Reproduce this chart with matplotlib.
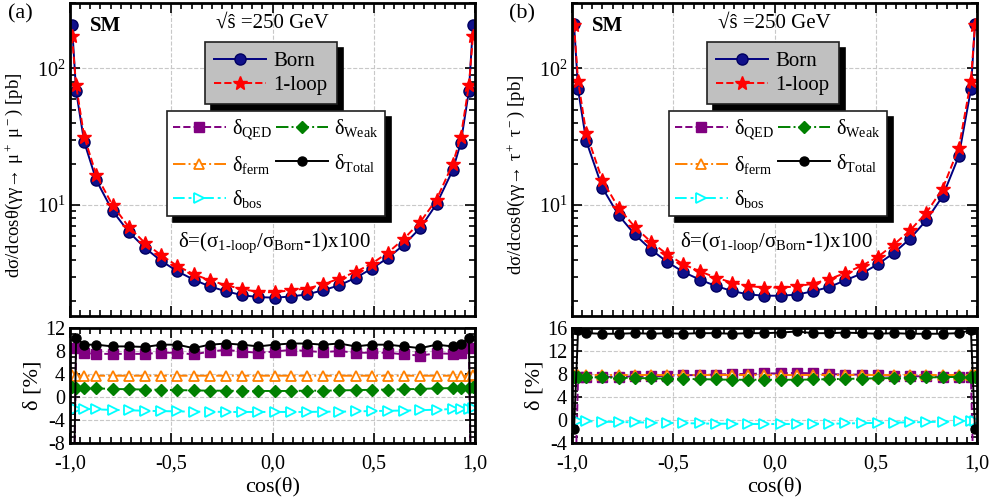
import numpy as np
import matplotlib.pyplot as plt
from matplotlib.ticker import MultipleLocator, LogLocator, NullFormatter

plt.rcParams['font.family'] = ['Liberation Serif', 'DejaVu Serif']
plt.rcParams['mathtext.fontset'] = 'custom'
plt.rcParams['mathtext.rm'] = 'Liberation Serif'
plt.rcParams['mathtext.it'] = 'Liberation Serif:italic'
plt.rcParams['axes.unicode_minus'] = False

# ---- panel (a): gamma gamma -> mu+ mu-
cos_a = [-0.99, -0.97, -0.93, -0.87, -0.79, -0.71, -0.63, -0.55, -0.47, -0.39,
         -0.31, -0.23, -0.15, -0.07, 0.01, 0.09, 0.17, 0.25, 0.33, 0.41,
         0.49, 0.57, 0.65, 0.73, 0.81, 0.89, 0.93, 0.97, 0.99]
born_a = [207, 68.5, 29, 15.2, 9.08, 6.38, 4.88, 3.92, 3.29, 2.86, 2.55, 2.35,
          2.20, 2.13, 2.11, 2.15, 2.23, 2.39, 2.60, 2.94, 3.44, 4.12, 5.16,
          6.82, 10.2, 18.0, 28.6, 68.5, 207]
loop_a = [172, 75.6, 31.7, 16.6, 10.0, 6.94, 5.30, 4.31, 3.60, 3.13, 2.83, 2.60,
          2.44, 2.32, 2.31, 2.39, 2.46, 2.64, 2.91, 3.25, 3.74, 4.50, 5.70,
          7.55, 11.0, 20.0, 31.7, 75.6, 172]
qed_a = [-40, 8.5, 7.65, 7.5, 7.5, 7.5, 7.5, 7.7, 7.7, 7.4, 7.9, 8.2, 7.9, 7.7,
         7.9, 8.2, 8.0, 7.8, 8.0, 7.7, 7.7, 7.7, 7.4, 7.2, 7.6, 7.5, 7.6, 8.5, -40]
weak_a = [1.7, 1.6, 1.6, 1.5, 1.4, 1.35, 1.3, 1.25, 1.2, 1.15, 1.1, 1.1, 1.05,
          1.05, 1.05, 1.05, 1.1, 1.1, 1.15, 1.2, 1.25, 1.3, 1.35, 1.4, 1.5,
          1.55, 1.6, 1.6, 1.7]
ferm_a = [3.8, 3.7, 3.7, 3.7, 3.7, 3.7, 3.7, 3.7, 3.7, 3.7, 3.7, 3.7, 3.7, 3.7,
          3.7, 3.7, 3.7, 3.7, 3.7, 3.7, 3.7, 3.7, 3.7, 3.7, 3.7, 3.7, 3.7, 3.7, 3.8]
bos_a = [-1.9, -2.0, -2.05, -2.15, -2.25, -2.3, -2.4, -2.45, -2.5, -2.55, -2.55,
         -2.6, -2.6, -2.6, -2.6, -2.6, -2.6, -2.55, -2.55, -2.5, -2.45, -2.4,
         -2.35, -2.3, -2.2, -2.1, -2.05, -2.0, -1.9]
total_a = [-40, 10.3, 9.1, 9.1, 8.8, 8.8, 8.7, 9.1, 9.1, 8.5, 9.1, 9.3, 9.1, 8.8,
           9.1, 9.3, 9.3, 9.1, 9.3, 8.8, 9.1, 9.1, 8.8, 8.5, 9.1, 8.8, 9.2, 10.3, -40]

# ---- panel (b): gamma gamma -> tau+ tau-
cos_b = [-0.99, -0.97, -0.93, -0.85, -0.77, -0.69, -0.61, -0.53, -0.45, -0.37,
         -0.29, -0.21, -0.13, -0.05, 0.03, 0.11, 0.19, 0.27, 0.35, 0.43, 0.51,
         0.59, 0.67, 0.75, 0.83, 0.91, 0.97, 0.99]
born_b = [211, 70.2, 29.5, 13.4, 8.45, 6.11, 4.74, 3.85, 3.25, 2.86, 2.57, 2.36,
          2.23, 2.18, 2.18, 2.22, 2.35, 2.52, 2.83, 3.16, 3.70, 4.48, 5.70,
          7.77, 11.6, 22.8, 70.2, 211]
loop_b = [207, 81, 33.8, 15.2, 9.55, 6.94, 5.39, 4.38, 3.70, 3.29, 2.96, 2.72,
          2.57, 2.50, 2.50, 2.55, 2.67, 2.88, 3.20, 3.60, 4.19, 5.16, 6.56,
          8.80, 13.2, 26.2, 81, 207]
qed_b = [-20, 7.5, 7.4, 7.5, 7.5, 7.6, 7.6, 7.7, 7.8, 7.8, 7.9, 8.0, 8.0, 8.1,
         8.1, 8.2, 8.1, 8.0, 7.9, 7.9, 7.8, 7.7, 7.6, 7.6, 7.5, 7.5, 7.5, -20]
weak_b = [7.5, 7.5, 7.45, 7.4, 7.35, 7.3, 7.25, 7.2, 7.15, 7.1, 7.05, 7.0, 7.0,
          7.0, 7.0, 7.0, 7.05, 7.1, 7.15, 7.2, 7.25, 7.3, 7.35, 7.4, 7.45,
          7.5, 7.5, 7.5]
ferm_b = [7.9] * 28
bos_b = [-0.1, -0.15, -0.2, -0.3, -0.35, -0.4, -0.45, -0.5, -0.55, -0.6, -0.65,
         -0.65, -0.7, -0.7, -0.7, -0.7, -0.65, -0.65, -0.6, -0.55, -0.5, -0.45,
         -0.4, -0.35, -0.3, -0.2, -0.15, -0.1]
total_b = [-1.6, 15.6, 15.1, 15.0, 15.0, 15.1, 15.0, 15.1, 15.0, 15.1, 15.1, 15.0,
           15.1, 15.1, 15.2, 15.4, 15.1, 15.1, 15.2, 15.1, 15.0, 15.1, 15.0,
           15.0, 15.0, 15.1, 15.6, -1.6]

xtick_pos = [-1.0, -0.5, 0.0, 0.5, 1.0]
xtick_lab = ['-1,0', '-0,5', '0,0', '0,5', '1,0']

W, H = 992, 503
fig = plt.figure(figsize=(W / 100, H / 100), dpi=100)

SHADOW = {'ox': 4.5, 'oy': -4.5, 'facecolor': 'black', 'edgecolor': 'black',
          'alpha': 1}


def box(x0, y0, x1, y1):
    return [x0 / W, 1 - y1 / H, (x1 - x0) / W, (y1 - y0) / H]


def style(ax):
    for s in ax.spines.values():
        s.set_linewidth(2)
    ax.tick_params(which='both', direction='in', top=True, right=True,
                   labelsize=14.5, width=1.2)
    ax.tick_params(which='major', length=7)
    ax.tick_params(which='minor', length=4)
    ax.grid(True, which='major', ls='--', color='#c8c8c8', lw=0.8)
    ax.set_axisbelow(True)


def panel(x0, tag, cos, born, loop, deltas, ylim_d, yticks_d, ylab_top):
    ax = fig.add_axes(box(x0, 3, x0 + 405, 316))
    axd = fig.add_axes(box(x0, 328, x0 + 405, 443))
    style(ax)
    style(axd)

    l_born, = ax.plot(cos, born, '-', color='#000080', lw=1.4, marker='o',
                      ms=8, mfc='#10108a', mec='#000060', label='Born')
    l_loop, = ax.plot(cos, loop, '--', color='red', lw=1.4, marker='*',
                      ms=10, mfc='red', mec='red', label='1-loop')
    ax.set_yscale('log')
    ax.set_ylim(1.55, 300)
    ax.set_xlim(-1, 1)
    ax.yaxis.set_minor_locator(LogLocator(subs=np.arange(2, 10)))
    ax.yaxis.set_minor_formatter(NullFormatter())
    ax.set_xticks(xtick_pos)
    ax.xaxis.set_minor_locator(MultipleLocator(0.05))
    ax.tick_params(labelbottom=False)
    ax.set_ylabel(ylab_top, fontsize=13.5)
    ax.yaxis.set_label_coords(-0.112, 0.45)

    qed, weak, ferm, bos, total = deltas
    h_qed, = axd.plot(cos, qed, '--', color='#800080', lw=1.4, marker='s',
                      ms=6.5, label='δ$_{\\mathrm{QED}}$')
    h_ferm, = axd.plot(cos, ferm, '-.', color='#ff8000', lw=1.4, marker='^',
                       ms=7, mfc='white', mec='#ff8000', mew=1.3,
                       label='δ$_{\\mathrm{ferm}}$')
    h_bos, = axd.plot(cos, bos, ls=(0, (6, 2, 1.5, 2, 1.5, 2)), color='cyan',
                      lw=1.4, marker='>', ms=7, mfc='white', mec='cyan',
                      mew=1.3, label='δ$_{\\mathrm{bos}}$')
    h_weak, = axd.plot(cos, weak, '-.', color='#008000', lw=1.4, marker='D',
                       ms=6, label='δ$_{\\mathrm{Weak}}$')
    h_tot, = axd.plot(cos, total, '-', color='black', lw=1.4, marker='o',
                      ms=6.5, label='δ$_{\\mathrm{Total}}$')
    axd.set_xlim(-1, 1)
    axd.set_ylim(*ylim_d)
    axd.set_yticks(yticks_d)
    axd.yaxis.set_minor_locator(MultipleLocator(1))
    axd.set_xticks(xtick_pos, xtick_lab)
    axd.xaxis.set_minor_locator(MultipleLocator(0.05))
    axd.tick_params(axis='x', which='major', pad=8)
    axd.set_xlabel('cos(θ)', fontsize=16, labelpad=3)
    axd.set_ylabel('δ [%]', fontsize=16, labelpad=2)

    leg1 = ax.legend(handles=[l_born, l_loop], loc='upper left',
                     bbox_to_anchor=(0.333, 0.875), borderaxespad=0,
                     fontsize=15, handlelength=2.5, handletextpad=0.35,
                     labelspacing=0.2, borderpad=0.45, fancybox=False,
                     facecolor='#c0c0c0', edgecolor='#202020', framealpha=1,
                     shadow=SHADOW)
    leg1.get_frame().set_linewidth(1.2)
    ax.add_artist(leg1)
    leg2 = ax.legend(handles=[h_qed, h_ferm, h_bos, h_weak, h_tot], ncol=2,
                     loc='upper left', bbox_to_anchor=(0.24, 0.655),
                     borderaxespad=0, fontsize=14.5, handlelength=2.6,
                     handletextpad=0.3, columnspacing=0.2, labelspacing=0.6,
                     borderpad=0.3, fancybox=False, facecolor='white',
                     edgecolor='#202020', framealpha=1, shadow=SHADOW)
    leg2.get_frame().set_linewidth(1.2)

    ax.text(0.05, 0.928, 'SM', transform=ax.transAxes, fontsize=15,
            fontweight='bold', va='center', ha='left')
    ax.text(0.5, 0.935, '√ŝ =250 GeV', transform=ax.transAxes, fontsize=15,
            va='center', ha='center')
    ax.text(0.505, 0.235,
            'δ=(σ$_{\\mathrm{1}\\text{-}\\mathrm{loop}}$/σ$_{\\mathrm{Born}}$-1)x100',
            transform=ax.transAxes, fontsize=15, va='center', ha='center')
    fig.text((x0 - 50) / W, 1 - 14 / H, tag, fontsize=16, va='center',
             ha='center')


panel(70, '(a)', cos_a, born_a, loop_a,
      (qed_a, weak_a, ferm_a, bos_a, total_a), (-8, 12), [-8, -4, 0, 4, 8, 12],
      'dσ/dcosθ(γγ→ μ$^+$ μ$^-$) [pb]')
panel(572, '(b)', cos_b, born_b, loop_b,
      (qed_b, weak_b, ferm_b, bos_b, total_b), (-4, 16), [-4, 0, 4, 8, 12, 16],
      'dσ/dcosθ(γγ→ τ$^+$ τ$^-$) [pb]')

fig.savefig('out.png', dpi=100)
